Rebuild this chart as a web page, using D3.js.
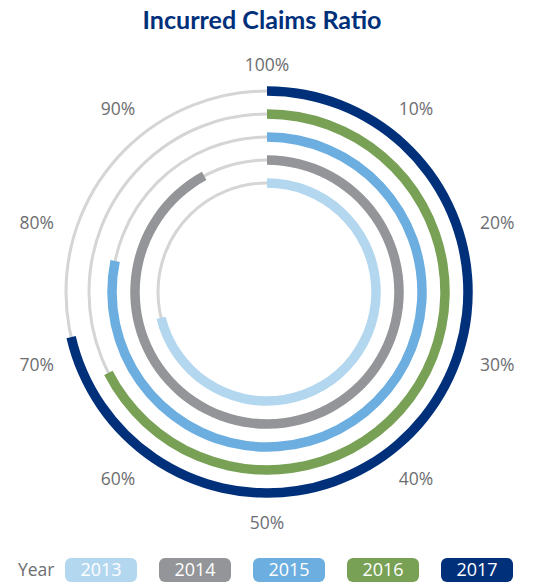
<!DOCTYPE html>
<html>
<head>
<meta charset="utf-8">
<script src="https://cdn.jsdelivr.net/npm/d3@7"></script>
<style>
  body { margin: 0; background: #fff; }
  svg { display: block; }
</style>
</head>
<body>
<div id="container"></div>
<script>
const years = ['2013', '2014', '2015', '2016', '2017']
const ratios = [71.2, 92.1, 78.2, 67.5, 71.4]
const tickValues = [100, 10, 20, 30, 40, 50, 60, 70, 80, 90]
const tickLabels = ['100%', '10%', '20%', '30%', '40%', '50%', '60%', '70%', '80%', '90%']

const width = 533
const height = 583
const cx = 267
const cy = 292
const barWidth = 9.5

const color = d3.scaleOrdinal()
  .domain(years)
  .range(['#b3d7ef', '#939598', '#6caee0', '#78a156', '#00307a'])

const angle = d3.scaleLinear().domain([0, 100]).range([0, 2 * Math.PI])
const radius = d3.scalePoint().domain(years).range([109, 201])

const svg = d3.select('#container')
  .append('svg')
  .attr('width', width)
  .attr('height', height)

svg.append('text')
  .attr('x', 262)
  .attr('y', 29)
  .attr('text-anchor', 'middle')
  .attr('font-family', 'Lato')
  .attr('font-weight', 'bold')
  .attr('font-size', 24)
  .attr('textLength', 239)
  .attr('lengthAdjust', 'spacingAndGlyphs')
  .attr('fill', '#00307a')
  .text('Incurred Claims Ratio')

const g = svg.append('g')
  .attr('transform', `translate(${cx},${cy})`)

// grey tracks
g.selectAll('.track')
  .data(years)
  .enter()
  .append('circle')
  .attr('class', 'track')
  .attr('r', d => radius(d))
  .attr('fill', 'none')
  .attr('stroke', '#d5d5d5')
  .attr('stroke-width', 3)

const arc = d3.arc()
  .innerRadius(d => radius(d.year) - barWidth / 2)
  .outerRadius(d => radius(d.year) + barWidth / 2)
  .startAngle(0)
  .endAngle(d => angle(d.value))

g.selectAll('.bar')
  .data(years.map((y, i) => ({ year: y, value: ratios[i] })))
  .enter()
  .append('path')
  .attr('class', 'bar')
  .attr('fill', d => color(d.year))
  .attr('d', arc)

// percentage labels round the rings
const labelR = 224
g.selectAll('.tick')
  .data(tickValues)
  .enter()
  .append('text')
  .attr('class', 'tick')
  .attr('x', d => labelR * Math.sin(angle(d)))
  .attr('y', d => 2 - 229 * Math.cos(angle(d)))
  .attr('dy', '0.35em')
  .attr('text-anchor', d => {
    const s = Math.sin(angle(d))
    return Math.abs(s) < 0.01 ? 'middle' : (s > 0 ? 'start' : 'end')
  })
  .attr('font-family', 'Open Sans')
  .attr('font-size', 17.5)
  .attr('fill', '#6d6e71')
  .text((d, i) => tickLabels[i])

// legend
const legendX = d3.scaleBand()
  .domain(years)
  .range([65, 513])
  .paddingInner(22 / 94)

svg.append('text')
  .attr('x', 18)
  .attr('y', 570)
  .attr('dy', '0.35em')
  .attr('font-family', 'Open Sans')
  .attr('font-size', 17.5)
  .attr('fill', '#6d6e71')
  .text('Year')

const item = svg.selectAll('.legend')
  .data(years)
  .enter()
  .append('g')
  .attr('class', 'legend')
  .attr('transform', d => `translate(${legendX(d)},558)`)

item.append('rect')
  .attr('width', legendX.bandwidth())
  .attr('height', 24)
  .attr('rx', 6)
  .attr('fill', d => color(d))

item.append('text')
  .attr('x', legendX.bandwidth() / 2)
  .attr('y', 12)
  .attr('dy', '0.35em')
  .attr('text-anchor', 'middle')
  .attr('font-family', 'Open Sans')
  .attr('font-size', 18)
  .attr('fill', '#fff')
  .text(d => d)
</script>
</body>
</html>
